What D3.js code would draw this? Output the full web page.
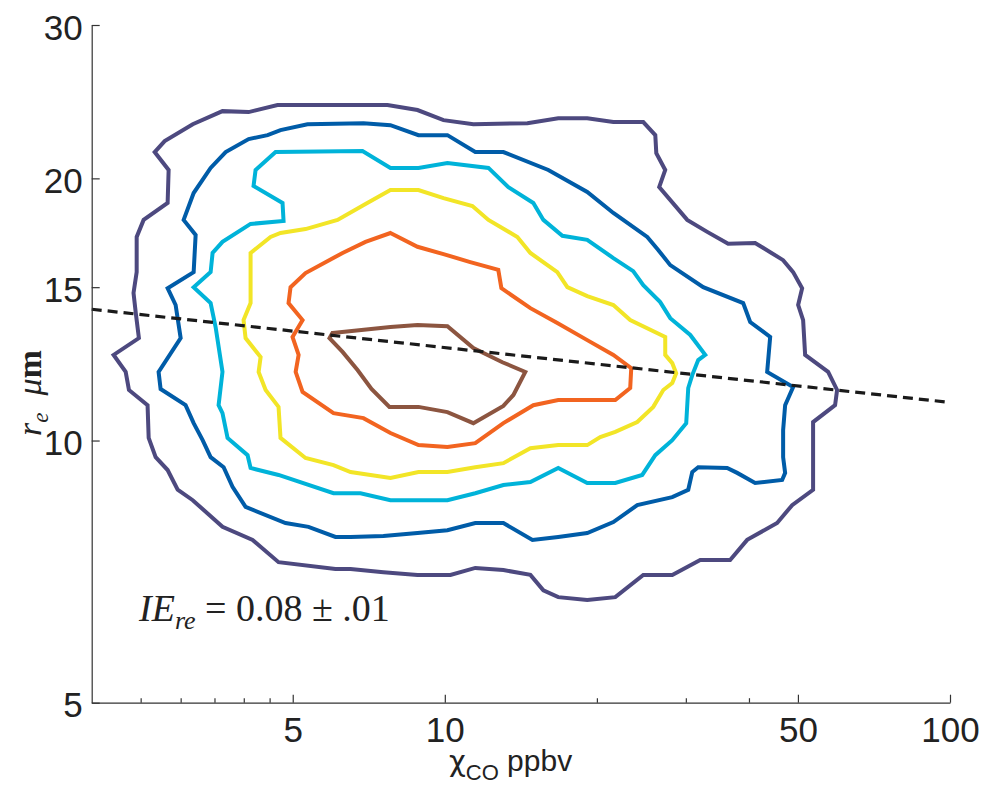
<!DOCTYPE html>
<html>
<head>
<meta charset="utf-8">
<script src="https://cdn.jsdelivr.net/npm/d3@7"></script>
<style>
  html, body { margin: 0; padding: 0; background: #fff; }
  svg { display: block; }
</style>
</head>
<body>
<svg id="chart" width="983" height="785"></svg>
<script>
// ---------------- data (x: chi_CO ppbv, y: r_e um) ----------------
const xMajorTicks = [5, 10, 50, 100];
const xMinorTicks = [2.5, 3, 3.5, 4, 4.5, 20, 30, 40];
const yTicks = [5, 10, 15, 20, 30];

const contourColors = ["#4d497f", "#005ca8", "#00b3d9", "#f2e527", "#f26420", "#8c5540"];

const contour1 = [[2.665,21.44],[2.789,22.07],[3.17,23.08],[3.63,23.89],[4.09,23.83],[4.665,24.28],[7.70,24.28],[8.83,23.96],[9.94,23.33],[11.39,23.08],[14.57,23.14],[16.77,23.45],[19.14,23.45],[21.56,23.21],[24.71,23.21],[26.10,22.42],[26.22,21.38],[27.31,20.45],[26.57,19.54],[30.19,17.92],[33.07,17.36],[36.38,16.82],[41.14,16.86],[46.74,16.11],[48.92,15.61],[50.97,14.96],[50.05,14.31],[51.20,13.75],[51.67,12.54],[57.38,11.99],[59.77,11.43],[59.23,10.98],[53.58,10.50],[53.58,8.78],[48.70,8.43],[45.48,8.04],[39.67,7.69],[36.71,7.29],[32.03,7.29],[28.20,7.01],[24.71,7.01],[21.75,6.61],[19.14,6.56],[16.77,6.61],[15.67,6.73],[14.77,7.01],[13.06,7.10],[11.49,7.14],[10.26,7.01],[8.83,7.01],[7.56,7.06],[6.507,7.12],[6.075,7.12],[4.687,7.25],[4.164,7.69],[3.63,7.96],[3.17,8.54],[2.959,8.78],[2.827,9.25],[2.677,9.57],[2.593,10.07],[2.58,10.98],[2.37,11.43],[2.335,11.99],[2.21,12.54],[2.48,13.11],[2.445,14.01],[2.42,14.77],[2.455,15.61],[2.455,17.13],[2.534,17.92],[2.827,18.74],[2.84,20.45]];

const contour2 = [[3.041,17.92],[3.183,19.24],[3.439,20.56],[3.683,21.44],[4.09,22.19],[4.459,22.42],[4.729,22.72],[5.348,23.08],[6.902,23.14],[7.805,23.02],[8.869,22.42],[10.12,22.42],[11.49,21.44],[13.06,21.44],[16.03,20.45],[19.14,19.29],[21.56,18.25],[25.16,17.13],[26.45,16.55],[27.94,15.90],[32.47,15.00],[38.96,14.38],[40.22,13.68],[44.06,13.15],[43.46,11.99],[48.92,11.52],[47.17,10.98],[46.74,10.28],[46.74,9.57],[47.17,9.18],[46.53,9.01],[41.14,8.94],[37.91,9.18],[36.22,9.30],[31.74,9.32],[30.89,9.20],[30.33,8.78],[28.20,8.61],[24.04,8.43],[21.56,8.06],[19.14,7.83],[16.77,7.75],[14.91,7.69],[13.06,8.04],[11.49,8.04],[10.12,7.89],[8.83,7.83],[7.56,7.77],[6.507,7.75],[6.075,7.75],[5.373,7.96],[4.838,8.04],[4.033,8.39],[3.80,8.85],[3.649,9.32],[3.439,9.57],[3.316,10.01],[3.183,10.47],[3.068,10.98],[2.738,11.46],[2.713,11.99],[3.00,13.11],[2.932,14.31],[2.827,14.96],[3.183,15.61],[3.212,17.22]];

const contour3 = [[4.221,20.45],[4.624,21.44],[6.871,21.50],[7.805,20.56],[8.869,20.56],[10.12,20.83],[12.20,20.56],[13.36,19.54],[14.97,18.74],[15.67,17.92],[17.09,17.18],[19.14,17.00],[21.56,16.20],[23.60,15.65],[24.71,15.08],[26.69,14.42],[27.94,13.82],[30.61,13.22],[32.77,12.54],[31.74,12.37],[30.89,11.89],[30.33,11.49],[30.05,10.47],[28.20,10.01],[26.10,9.62],[24.59,9.13],[21.75,8.94],[19.14,8.94],[16.77,9.30],[14.77,8.96],[13.06,8.89],[11.49,8.70],[10.12,8.54],[7.805,8.54],[6.809,8.70],[6.021,8.70],[4.687,9.13],[4.126,9.30],[4.070,9.62],[3.715,10.07],[3.63,10.75],[3.566,10.98],[3.63,11.99],[3.518,13.50],[3.439,14.38],[3.183,15.00],[3.439,15.61],[3.470,16.42],[3.63,16.91],[4.126,17.73],[4.795,17.87],[4.773,18.74],[4.182,19.60]];

const contour4 = [[4.126,16.42],[4.519,17.13],[4.729,17.31],[5.300,17.49],[6.133,17.92],[6.966,18.69],[7.805,19.39],[8.869,19.39],[9.94,18.98],[11.34,18.59],[12.20,17.92],[13.92,17.13],[14.77,16.42],[16.70,15.61],[17.48,15.00],[19.14,14.65],[21.56,14.31],[23.28,13.75],[27.31,13.15],[27.31,12.54],[28.20,12.27],[28.71,11.95],[28.20,11.64],[27.07,11.43],[25.86,10.93],[24.04,10.50],[21.75,10.23],[20.31,10.09],[19.14,9.88],[16.77,9.88],[14.77,9.80],[13.06,9.42],[11.49,9.32],[10.12,9.20],[8.869,9.20],[7.805,9.06],[6.507,9.20],[6.021,9.37],[5.300,9.55],[4.729,10.07],[4.687,10.93],[4.419,11.43],[4.280,11.99],[4.319,12.47],[4.033,13.11],[3.996,13.75],[4.126,14.38]];

const contour5 = [[7.805,17.31],[8.83,16.69],[9.94,16.37],[11.23,16.03],[12.76,15.70],[12.94,14.96],[14.77,14.19],[16.70,13.64],[19.14,13.04],[21.56,12.54],[23.39,12.11],[23.28,11.49],[21.75,11.13],[16.77,11.13],[14.97,10.98],[13.06,10.47],[11.49,9.93],[10.12,9.83],[8.869,9.88],[7.805,10.20],[6.902,10.61],[6.021,10.75],[5.229,11.37],[5.067,11.99],[5.136,12.54],[4.995,13.15],[5.229,13.75],[4.905,14.38],[4.950,15.00],[5.300,15.57],[6.275,16.42],[6.966,16.91]];

const contour6 = [[5.993,13.29],[7.805,13.50],[8.83,13.57],[10.12,13.53],[11.39,12.77],[13.00,12.30],[14.43,11.99],[13.67,11.28],[13.06,10.96],[11.39,10.47],[10.12,10.78],[8.869,10.93],[7.769,10.93],[7.159,11.46],[6.718,12.05],[6.275,12.64],[5.912,13.11]];

const contours = [contour1, contour2, contour3, contour4, contour5, contour6];

const fitX = [2, 100];
const fitY = [14.15, 11.06];

// ---------------- layout ----------------
const svg = d3.select("#chart");
const mLeft = 91.7, mRight = 950, mTop = 25, mBottom = 702.7;

const x = d3.scaleLog().domain([2, 100]).range([mLeft, mRight]);
const y = d3.scaleLog().domain([5, 30]).range([mBottom, mTop]);

const line = d3.line().x(d => x(d[0])).y(d => y(d[1]));
const closedLine = d3.line().x(d => x(d[0])).y(d => y(d[1])).curve(d3.curveLinearClosed);

// contours
svg.append("g").selectAll("path")
  .data(contours)
  .join("path")
  .attr("d", d => closedLine(d))
  .attr("fill", "none")
  .attr("stroke", (d, i) => contourColors[i])
  .attr("stroke-width", 4)
  .attr("stroke-linejoin", "miter");

// fit line
svg.append("path")
  .attr("d", line(fitX.map((v, i) => [v, fitY[i]])))
  .attr("fill", "none")
  .attr("stroke", "#1a1a1a")
  .attr("stroke-width", 3.2)
  .attr("stroke-dasharray", "10,6");

const tickFont = "'Liberation Sans', Arial, Helvetica, sans-serif";

// x axis (major)
const gx = svg.append("g").attr("transform", `translate(0,${mBottom})`)
  .call(d3.axisBottom(x).tickValues(xMajorTicks).tickFormat(d3.format("d"))
        .tickSizeInner(-8).tickSizeOuter(0).tickPadding(14));
gx.select(".domain").attr("stroke", "#333").attr("stroke-width", 1.2);
gx.selectAll(".tick line").attr("stroke", "#333").attr("stroke-width", 1.2);
gx.selectAll(".tick text").attr("font-family", tickFont).attr("font-size", 35).attr("fill", "#222");

// x axis (minor)
const gxm = svg.append("g").attr("transform", `translate(0,${mBottom})`)
  .call(d3.axisBottom(x).tickValues(xMinorTicks).tickFormat("")
        .tickSizeInner(-4.5).tickSizeOuter(0));
gxm.select(".domain").remove();
gxm.selectAll(".tick line").attr("stroke", "#333").attr("stroke-width", 1.2);

// y axis
const gy = svg.append("g").attr("transform", `translate(${mLeft},0)`)
  .call(d3.axisLeft(y).tickValues(yTicks).tickFormat(d3.format("d"))
        .tickSizeInner(-8).tickSizeOuter(0).tickPadding(9));
gy.select(".domain").attr("stroke", "#333").attr("stroke-width", 1.2);
gy.selectAll(".tick line").attr("stroke", "#333").attr("stroke-width", 1.2);
gy.selectAll(".tick text").attr("font-family", tickFont).attr("font-size", 35)
  .attr("fill", "#222").attr("dy", "0.4em");

// x axis label
const xl = svg.append("text")
  .attr("x", 449).attr("y", 771)
  .attr("font-family", tickFont).attr("font-size", 30).attr("fill", "#222");
xl.append("tspan").attr("font-family", "'DejaVu Sans', sans-serif").attr("font-size", 29).text("χ");
xl.append("tspan").attr("font-size", 22).attr("dy", 9).text("CO");
xl.append("tspan").attr("dy", -9).text(" ppbv");

// y axis label
const serif = "'Liberation Serif', 'Times New Roman', serif";
const yl = svg.append("text")
  .attr("transform", "translate(41,393) rotate(-90)")
  .attr("text-anchor", "middle")
  .attr("font-family", serif).attr("font-size", 34).attr("fill", "#222");
yl.append("tspan").attr("font-style", "italic").text("r");
yl.append("tspan").attr("font-style", "italic").attr("font-size", 23).attr("dy", 7).text("e");
yl.append("tspan").attr("dy", -7).attr("font-style", "italic").text("\u2002μ");
yl.append("tspan").attr("font-weight", "bold").text("m");

// annotation
const ann = svg.append("text")
  .attr("x", 139).attr("y", 621)
  .attr("font-family", serif).attr("font-size", 38).attr("fill", "#222");
ann.append("tspan").attr("font-style", "italic").text("IE");
ann.append("tspan").attr("font-style", "italic").attr("font-size", 26).attr("dy", 8).text("re");
ann.append("tspan").attr("dy", -8).text(" = 0.08 ± .01");
</script>
</body>
</html>
